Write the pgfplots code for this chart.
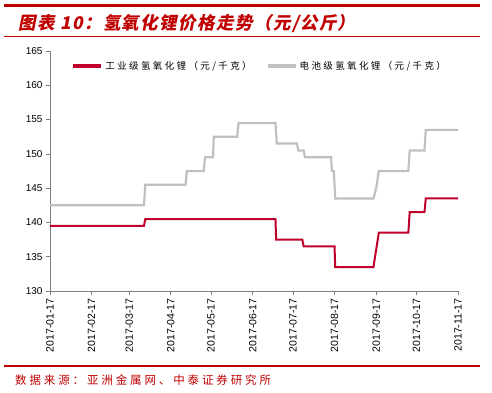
\documentclass[border=0pt]{standalone}
\usepackage{fontspec}
\setmainfont{Liberation Sans}
\newfontfamily\cjk{Noto Sans CJK SC}[LetterSpace=25]
\newfontfamily\cjkt{Noto Sans CJK SC}[FakeSlant=0.2,LetterSpace=8]
\newfontfamily\cjkf{Noto Sans CJK SC}[LetterSpace=25]
\usepackage{pgfplots}
\pgfplotsset{compat=1.18}
\definecolor{titlered}{HTML}{C00000}
\definecolor{serred}{HTML}{C0002A}
\definecolor{sergray}{HTML}{C0C0C0}
\definecolor{axgray}{HTML}{808080}
\begin{document}
\begin{tikzpicture}[x=1pt,y=1pt]
\path[use as bounding box] (0pt,0pt) rectangle (492pt,-393pt);
\draw[line width=3pt, titlered] (4pt,-5.7pt) -- (480pt,-5.7pt);
\draw[line width=0.9pt, titlered] (4pt,-36.7pt) -- (480pt,-36.7pt);
\node[anchor=base west, inner sep=0pt, text=titlered, font=\fontsize{17.5}{20}\selectfont\cjkt\bfseries] at (18pt,-30pt) {图表 10：氢氧化锂价格走势（元/公斤）};
\draw[line width=2pt, titlered] (4pt,-366pt) -- (480pt,-366pt);
\node[anchor=west, inner sep=0pt, text=titlered, font=\fontsize{11.5}{13}\selectfont\cjkf] at (15pt,-380pt) {数据来源：亚洲金属网、中泰证券研究所};
\begin{axis}[
  at={(50pt,-291pt)}, anchor=south west,
  scale only axis, width=408pt, height=240pt,
  xmin=0, xmax=304, ymin=130, ymax=165,
  axis x line=bottom, axis y line=left,
  axis line style={axgray, -},
  xtick={0,31,59,90,120,151,181,212,243,273,304},
  xticklabels={2017-01-17,2017-02-17,2017-03-17,2017-04-17,2017-05-17,2017-06-17,2017-07-17,2017-08-17,2017-09-17,2017-10-17,2017-11-17},
  ytick={130,135,...,165},
  tick align=outside, tick style={axgray, line width=0.6pt}, major tick length=4pt,
  xticklabel style={rotate=90, anchor=east, font=\fontsize{10.5}{12}\selectfont},
  yticklabel style={font=\fontsize{10}{12}\selectfont},
  /pgf/number format/assume math mode=true,
  legend style={at={(0.514,0.975)}, anchor=north, draw=none, fill=none, legend columns=2,
    font=\fontsize{9.5}{11}\selectfont\cjk, /tikz/every even column/.append style={column sep=12pt}},
  legend image code/.code={\draw[#1, line width=4pt] (0pt,0pt) -- (28pt,0pt);},
]
\addplot[serred, line width=2pt] coordinates {
(0,139.5)(70,139.5)(71,140.5)(168,140.5)(168.5,137.5)(188,137.5)(189,136.5)(212,136.5)(212.5,133.5)(241,133.5)(245,138.5)(267,138.5)(268,141.5)(279,141.5)(280,143.5)(304,143.5)};
\addlegendentry{工业级氢氧化锂（元/千克）}
\addplot[sergray, line width=2.2pt] coordinates {
(0,142.5)(70,142.5)(71,145.5)(101,145.5)(102,147.5)(114.5,147.5)(115.5,149.5)(121.5,149.5)(122,152.5)(139.5,152.5)(140.5,154.5)(168,154.5)(169,151.5)(184,151.5)(185,150.5)(189,150.5)(190,149.5)(209.5,149.5)(210,147.5)(211.5,147.5)(212.5,143.5)(241,143.5)(243,145)(245,147.5)(267,147.5)(268,150.5)(279,150.5)(280,153.5)(304,153.5)};
\addlegendentry{电池级氢氧化锂（元/千克）}
\end{axis}
\end{tikzpicture}
\end{document}
